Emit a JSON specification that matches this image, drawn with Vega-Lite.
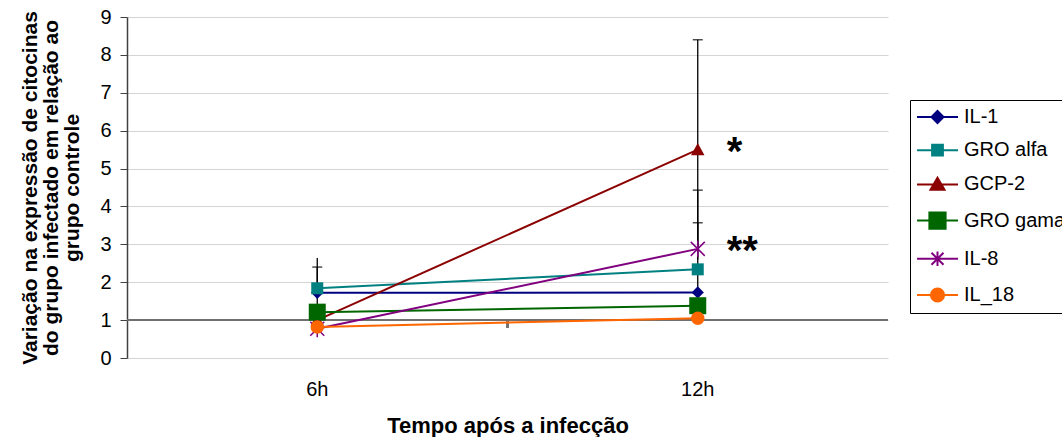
{
  "$schema": "https://vega.github.io/schema/vega-lite/v6.json",
  "width": 761,
  "height": 341,
  "autosize": {"type": "none"},
  "padding": {"left": 127, "top": 17, "right": 174, "bottom": 79},
  "background": "white",
  "config": {
    "font": "Liberation Sans",
    "view": {"stroke": null},
    "axisY": {
      "tickCount": 12,
      "labelFontSize": 20,
      "labelColor": "black",
      "labelPadding": 9,
      "labelOverlap": false,
      "tickSize": 7,
      "tickColor": "#404040",
      "domainColor": "#404040",
      "domainWidth": 1.5,
      "grid": true,
      "gridColor": "#d4d4d4",
      "gridWidth": 1,
      "titleFontSize": 21,
      "titleFontWeight": "bold",
      "titleColor": "black",
      "titleLineHeight": 21,
      "titlePadding": 17
    },
    "axisX": {
      "labelAngle": 0,
      "labelFontSize": 20,
      "labelColor": "black",
      "labelPadding": 21,
      "ticks": false,
      "domain": false,
      "grid": false,
      "titleFontSize": 22,
      "titleFontWeight": "bold",
      "titleColor": "black",
      "titlePadding": 16
    }
  },
  "datasets": {
    "series": [
      {"serie": "IL-1", "tempo": "6h", "valor": 1.72},
      {"serie": "IL-1", "tempo": "12h", "valor": 1.73},
      {"serie": "GRO alfa", "tempo": "6h", "valor": 1.84},
      {"serie": "GRO alfa", "tempo": "12h", "valor": 2.34},
      {"serie": "GCP-2", "tempo": "6h", "valor": 1.0},
      {"serie": "GCP-2", "tempo": "12h", "valor": 5.5},
      {"serie": "GRO gama", "tempo": "6h", "valor": 1.21},
      {"serie": "GRO gama", "tempo": "12h", "valor": 1.38},
      {"serie": "IL-8", "tempo": "6h", "valor": 0.77},
      {"serie": "IL-8", "tempo": "12h", "valor": 2.88},
      {"serie": "IL_18", "tempo": "6h", "valor": 0.82},
      {"serie": "IL_18", "tempo": "12h", "valor": 1.05}
    ],
    "erros": [
      {"serie": "IL-1", "tempo": "6h", "inferior": 1.72, "superior": 2.64},
      {"serie": "GRO alfa", "tempo": "6h", "inferior": 1.84, "superior": 2.40},
      {"serie": "GRO gama", "tempo": "6h", "inferior": 1.21, "superior": 1.84},
      {"serie": "GCP-2", "tempo": "12h", "inferior": 2.6, "superior": 8.4},
      {"serie": "GRO alfa", "tempo": "12h", "inferior": 2.34, "superior": 4.43},
      {"serie": "IL-8", "tempo": "12h", "inferior": 2.88, "superior": 3.57},
      {"serie": "IL_18", "tempo": "12h", "inferior": 1.05, "superior": 2.34}
    ],
    "tampas": [
      {"tempo": "6h", "valor": 2.40},
      {"tempo": "12h", "valor": 8.4},
      {"tempo": "12h", "valor": 4.43},
      {"tempo": "12h", "valor": 3.57}
    ],
    "significancia": [
      {"tempo": "12h", "valor": 5.5, "texto": "*"},
      {"tempo": "12h", "valor": 2.88, "texto": "**"}
    ]
  },
  "layer": [
    {
      "data": {"name": "series"},
      "mark": {"type": "rule", "color": "#707070", "strokeWidth": 1.5},
      "encoding": {
        "y": {
          "datum": 1,
          "type": "quantitative",
          "scale": {"domain": [0, 9], "nice": false, "zero": true},
          "title": ["Variação na expressão de citocinas", "do grupo infectado em relação ao", "grupo controle"],
          "axis": {"values": [0, 1, 2, 3, 4, 5, 6, 7, 8, 9], "tickCount": 12, "format": "d"}
        }
      }
    },
    {
      "data": {"name": "series"},
      "mark": {"type": "rule", "color": "#707070", "strokeWidth": 1.5},
      "encoding": {
        "x": {
          "datum": "12h",
          "type": "nominal",
          "bandPosition": 0,
          "scale": {"type": "band", "domain": ["6h", "12h"], "paddingInner": 0, "paddingOuter": 0},
          "title": "Tempo após a  infecção"
        },
        "y": {
          "datum": 1,
          "type": "quantitative",
          "title": ["Variação na expressão de citocinas", "do grupo infectado em relação ao", "grupo controle"],
          "axis": {"values": [0, 1, 2, 3, 4, 5, 6, 7, 8, 9], "tickCount": 12, "format": "d"}
        },
        "y2": {"datum": 0.8}
      }
    },
    {
      "data": {"name": "erros"},
      "mark": {"type": "rule", "color": "black", "strokeWidth": 1.3},
      "encoding": {
        "x": {"field": "tempo", "type": "nominal", "title": "Tempo após a  infecção"},
        "y": {
          "field": "inferior",
          "type": "quantitative",
          "title": ["Variação na expressão de citocinas", "do grupo infectado em relação ao", "grupo controle"],
          "axis": {"values": [0, 1, 2, 3, 4, 5, 6, 7, 8, 9], "tickCount": 12, "format": "d"}
        },
        "y2": {"field": "superior"}
      }
    },
    {
      "data": {"name": "tampas"},
      "mark": {"type": "tick", "color": "black", "size": 10, "thickness": 1.5, "orient": "horizontal"},
      "encoding": {
        "x": {"field": "tempo", "type": "nominal", "title": "Tempo após a  infecção"},
        "y": {
          "field": "valor",
          "type": "quantitative",
          "title": ["Variação na expressão de citocinas", "do grupo infectado em relação ao", "grupo controle"],
          "axis": {"values": [0, 1, 2, 3, 4, 5, 6, 7, 8, 9], "tickCount": 12, "format": "d"}
        }
      }
    },
    {
      "data": {"name": "series"},
      "mark": {"type": "line", "strokeWidth": 2},
      "encoding": {
        "x": {"field": "tempo", "type": "nominal", "title": "Tempo após a  infecção"},
        "y": {
          "field": "valor",
          "type": "quantitative",
          "title": ["Variação na expressão de citocinas", "do grupo infectado em relação ao", "grupo controle"],
          "axis": {"values": [0, 1, 2, 3, 4, 5, 6, 7, 8, 9], "tickCount": 12, "format": "d"}
        },
        "color": {
          "field": "serie",
          "type": "nominal",
          "scale": {
            "domain": ["IL-1", "GRO alfa", "GCP-2", "GRO gama", "IL-8", "IL_18"],
            "range": ["#000080", "#008080", "#8B0000", "#006600", "#800080", "#FF6600"]
          },
          "legend": {
            "orient": "none",
            "legendX": 783,
            "legendY": 83,
            "title": null,
            "strokeColor": "black",
            "fillColor": "white",
            "padding": 7,
            "rowPadding": 13.2,
            "labelFontSize": 20,
            "labelColor": "black",
            "labelOffset": 27,
            "symbolSize": 144,
            "encode": {
              "symbols": {
                "update": {
                  "shape": {"signal": "datum.value === 'IL-1' ? 'M-1.66,0H5.17M1.75,-1L2.75,0L1.75,1L0.75,0Z' : datum.value === 'GRO alfa' ? 'M-1.66,0H5.17M0.85,-0.9H2.65V0.9H0.85Z' : datum.value === 'GCP-2' ? 'M-1.66,0H5.17M1.75,-1.1L2.92,0.9H0.58Z' : datum.value === 'GRO gama' ? 'M-1.66,0H5.17M0.4,-1.35H3.1V1.35H0.4Z' : datum.value === 'IL-8' ? 'M-1.66,0H5.17M0.75,-1L2.75,1M0.75,1L2.75,-1M1.75,-1.2V1.2' : 'M-1.66,0H5.17M2.85,0A1.1,1.1 0 1,1 0.65,0A1.1,1.1 0 1,1 2.85,0Z'"},
                  "fill": {"signal": "scale('color', datum.value)"},
                  "stroke": {"signal": "scale('color', datum.value)"},
                  "strokeWidth": {"value": 2},
                  "size": {"value": 144},
                  "opacity": {"value": 1},
                  "fillOpacity": {"value": 1}
                }
              }
            }
          }
        }
      }
    },
    {
      "data": {"name": "series"},
      "transform": [{"filter": "datum.serie === 'IL-1'"}],
      "mark": {"type": "point", "filled": true, "opacity": 1, "shape": "M0,-1L1,0L0,1L-1,0Z", "size": 150},
      "encoding": {
        "x": {"field": "tempo", "type": "nominal"},
        "y": {"field": "valor", "type": "quantitative"},
        "color": {"field": "serie", "type": "nominal", "legend": null}
      }
    },
    {
      "data": {"name": "series"},
      "transform": [{"filter": "datum.serie === 'GRO alfa'"}],
      "mark": {"type": "point", "filled": true, "opacity": 1, "shape": "square", "size": 144},
      "encoding": {
        "x": {"field": "tempo", "type": "nominal"},
        "y": {"field": "valor", "type": "quantitative"},
        "color": {"field": "serie", "type": "nominal", "legend": null}
      }
    },
    {
      "data": {"name": "series"},
      "transform": [{"filter": "datum.serie === 'GCP-2'"}],
      "mark": {"type": "point", "filled": true, "opacity": 1, "shape": "M0,-1L1,0.85H-1Z", "size": 180},
      "encoding": {
        "x": {"field": "tempo", "type": "nominal"},
        "y": {"field": "valor", "type": "quantitative"},
        "color": {"field": "serie", "type": "nominal", "legend": null}
      }
    },
    {
      "data": {"name": "series"},
      "transform": [{"filter": "datum.serie === 'GRO gama'"}],
      "mark": {"type": "point", "filled": true, "opacity": 1, "shape": "square", "size": 289},
      "encoding": {
        "x": {"field": "tempo", "type": "nominal"},
        "y": {"field": "valor", "type": "quantitative"},
        "color": {"field": "serie", "type": "nominal", "legend": null}
      }
    },
    {
      "data": {"name": "series"},
      "transform": [{"filter": "datum.serie === 'IL-8'"}],
      "mark": {"type": "point", "filled": false, "opacity": 1, "strokeWidth": 1.5, "shape": "M-1,-1L1,1M-1,1L1,-1M0,-1.2V1.2", "size": 196},
      "encoding": {
        "x": {"field": "tempo", "type": "nominal"},
        "y": {"field": "valor", "type": "quantitative"},
        "color": {"field": "serie", "type": "nominal", "legend": null}
      }
    },
    {
      "data": {"name": "series"},
      "transform": [{"filter": "datum.serie === 'IL_18'"}],
      "mark": {"type": "point", "filled": true, "opacity": 1, "shape": "circle", "size": 180},
      "encoding": {
        "x": {"field": "tempo", "type": "nominal"},
        "y": {"field": "valor", "type": "quantitative"},
        "color": {"field": "serie", "type": "nominal", "legend": null}
      }
    },
    {
      "data": {"name": "significancia"},
      "mark": {"type": "text", "fontSize": 40, "fontWeight": "bold", "align": "left", "baseline": "middle", "dx": 29, "dy": 3, "color": "black"},
      "encoding": {
        "x": {"field": "tempo", "type": "nominal"},
        "y": {"field": "valor", "type": "quantitative"},
        "text": {"field": "texto"}
      }
    }
  ]
}
